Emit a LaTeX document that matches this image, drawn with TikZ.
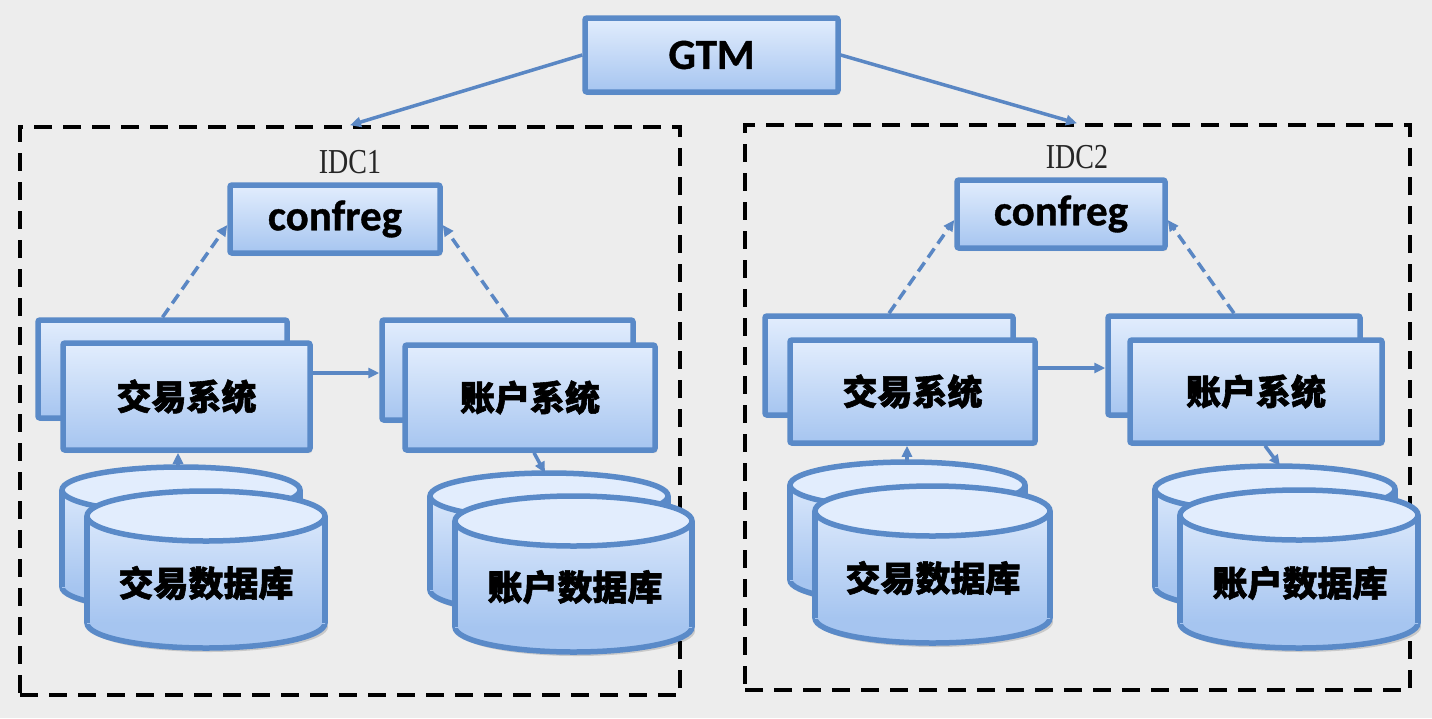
\documentclass[tikz,border=0pt]{standalone}
\usepackage{fontspec}
\newfontfamily\cjkf[BoldFeatures={FakeBold=1.6}]{Noto Sans CJK SC}
\newfontfamily\calf[BoldFeatures={FakeBold=0.8}]{Carlito}
\newfontfamily\serf{Liberation Serif}
\usetikzlibrary{shadows,arrows.meta,calc}
\definecolor{bg}{HTML}{EDEDED}
\definecolor{bord}{HTML}{5A8AC8}
\definecolor{ftop}{HTML}{E2EDFD}
\definecolor{fbot}{HTML}{A6C5F0}
\definecolor{lnk}{HTML}{5A87C4}
\tikzset{
  bluebox/.style={draw=bord, line width=5.5pt, rounded corners=2pt, top color=ftop, bottom color=fbot, inner sep=0pt,
    drop shadow={opacity=0.22, shadow xshift=2pt, shadow yshift=-3pt}},
  dashbox/.style={draw=black, line width=3.5pt, dash pattern=on 18pt off 11pt, inner sep=0pt},
  arr/.style={draw=lnk, line width=3.5pt, -{Triangle[length=11pt,width=10pt]}},
  dasharr/.style={arr, dash pattern=on 11pt off 6pt},
  lbl/.style={font=\cjkf\bfseries\fontsize{35}{40}\selectfont, text=black},
  enlbl/.style={font=\calf\bfseries\fontsize{43}{48}\selectfont, text=black},
  idclbl/.style={font=\serf\fontsize{35}{40}\selectfont, text=black!85},
}
\newcommand\dbcyl[5]{%
  \pgfmathsetmacro\dcx{(#1+#2)/2}%
  \pgfmathsetmacro\drx{(#2-#1)/2}%
  \pgfmathsetmacro\dta{#3+#5}%
  \pgfmathsetmacro\dbb{#4-#5}%
  \fill[black,opacity=0.15] ({\dcx+3},{\dbb+4}) ellipse [x radius=\drx pt, y radius=#5 pt];
  \filldraw[draw=bord,line width=5.5pt,fill=fbot] (\dcx,\dbb) ellipse [x radius=\drx pt, y radius=#5 pt];
  \shade[top color=ftop!85!fbot,bottom color=fbot] (#1,\dta) rectangle (#2,\dbb);
  \draw[bord,line width=5.5pt] (#1,\dta) -- (#1,\dbb) (#2,\dta) -- (#2,\dbb);
  \filldraw[draw=bord,line width=5.5pt,fill=ftop] (\dcx,\dta) ellipse [x radius=\drx pt, y radius=#5 pt];
}
\begin{document}
\begin{tikzpicture}[x=1pt,y=-1pt]
\useasboundingbox (0,0) rectangle (1432,718);
\fill[bg] (0,0) rectangle (1432,718);

% IDC frames
\node[dashbox, minimum width=660pt, minimum height=568pt] (idc1) at (350,411) {};
\node[dashbox, minimum width=665pt, minimum height=565pt] (idc2) at (1077.5,407.5) {};
\node[idclbl] (idc1lbl) at (350,162) {\scalebox{0.8}[1]{IDC1}};
\node[idclbl] (idc2lbl) at (1077,157) {\scalebox{0.8}[1]{IDC2}};

% GTM
\node[bluebox, minimum width=253pt, minimum height=74pt, enlbl] (gtm) at (711.5,55) {GTM};
\coordinate (in1) at (idc1lbl |- idc1.north);
\coordinate (in2) at (idc2lbl |- idc2.north);
\draw[arr] (gtm.west) -- (in1);
\draw[arr] (gtm.east) -- (in2);

% confreg
\node[bluebox, minimum width=210pt, minimum height=68pt, enlbl] (cf1) at (335,219) {confreg};
\node[bluebox, minimum width=208pt, minimum height=68pt, enlbl] (cf2) at (1061,214) {confreg};

% systems IDC1
\node[bluebox, minimum width=249pt, minimum height=98pt] (tB1) at (162.5,369) {};
\node[bluebox, minimum width=247pt, minimum height=107pt, lbl] (tA1) at (186.5,396.5) {交易系统};
\node[bluebox, minimum width=251pt, minimum height=100pt] (aB1) at (507.5,370) {};
\node[bluebox, minimum width=250pt, minimum height=105pt, lbl] (aA1) at (530,397.5) {账户系统};
% systems IDC2
\node[bluebox, minimum width=248pt, minimum height=99pt] (tB2) at (889,365.5) {};
\node[bluebox, minimum width=245pt, minimum height=103pt, lbl] (tA2) at (912.5,391.5) {交易系统};
\node[bluebox, minimum width=252pt, minimum height=99pt] (aB2) at (1234,365.5) {};
\node[bluebox, minimum width=252pt, minimum height=103pt, lbl] (aA2) at (1256,391.5) {账户系统};

% dashed links to confreg
\draw[dasharr] (tB1.north) -- ([yshift=-6pt]cf1.west);
\draw[dasharr] (aB1.north) -- ([yshift=-6pt]cf1.east);
\draw[dasharr] (tB2.north) -- ([yshift=-6pt]cf2.west);
\draw[dasharr] (aB2.north) -- ([yshift=-6pt]cf2.east);

% horizontal links
\draw[arr] (tA1.east |- 0,373) -- (aB1.west |- 0,373);
\draw[arr] (tA2.east |- 0,368) -- (aB2.west |- 0,368);

% databases IDC1
\dbcyl{62}{300}{467}{610}{23}
\dbcyl{87}{325}{491}{648}{25}
\node[lbl] (tdb1) at (206,583) {交易数据库};
\dbcyl{430}{668}{473}{613}{23}
\dbcyl{455}{692}{496}{652}{25}
\node[lbl] (adb1) at (575,587) {账户数据库};
% databases IDC2
\dbcyl{790}{1025}{462}{603}{23}
\dbcyl{815}{1050}{486}{643}{25}
\node[lbl] (tdb2) at (933,578) {交易数据库};
\dbcyl{1155}{1395}{466}{610}{23}
\dbcyl{1180}{1418}{490}{648}{25}
\node[lbl] (adb2) at (1300,583) {账户数据库};

% db links
\coordinate (t1top) at (178,467);
\coordinate (a1top) at (545,473);
\coordinate (t2top) at (907,462);
\coordinate (a2top) at (1280,466);
\draw[arr] (t1top) -- (t1top |- tA1.south);
\draw[arr] ([xshift=4pt]aA1.south) -- (a1top);
\draw[arr] (t2top) -- (t2top |- tA2.south);
\draw[arr] ([xshift=9pt]aA2.south) -- (a2top);
\end{tikzpicture}
\end{document}
